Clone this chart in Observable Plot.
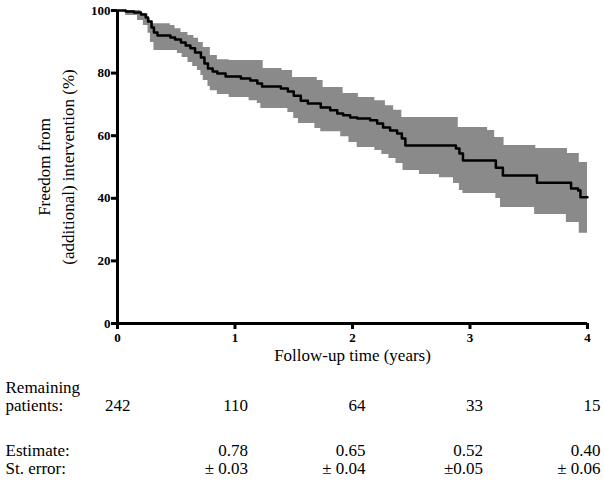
<!DOCTYPE html>
<html><head><meta charset="utf-8">
<script src="https://cdn.jsdelivr.net/npm/d3@7"></script>
<script src="https://cdn.jsdelivr.net/npm/@observablehq/plot@0.6"></script>
<style>body{margin:0;background:#fff;}</style>
</head><body><div id="chart"></div>
<script>
// Kaplan-Meier estimate (years, %)
const lineTime = [0,0.07,0.14,0.20,0.24,0.26,0.29,0.31,0.34,0.45,0.49,0.54,0.58,0.62,0.66,0.71,0.74,0.77,0.81,0.85,0.92,1.05,1.13,1.19,1.23,1.39,1.45,1.50,1.56,1.62,1.73,1.81,1.87,1.92,1.98,2.04,2.15,2.21,2.26,2.32,2.38,2.42,2.45,2.88,2.91,2.94,3.22,3.28,3.57,3.86,3.92,3.94,4.00];
const lineSurv = [100,99.7,99.4,98.7,97.8,96.5,94.6,93.0,92.0,91.4,90.7,89.8,88.8,87.9,86.6,85.0,83.1,81.5,80.5,79.9,78.9,78.3,77.6,76.7,75.7,75.1,74.1,72.8,71.2,70.3,69.0,68.1,67.1,66.5,65.8,65.5,64.9,63.9,62.6,61.7,60.7,59.1,56.9,55.9,54.3,52.1,49.8,47.3,45.0,43.1,42.5,40.3,40.3];
// Confidence band, upper bound
const upperTime = [0,0.20,0.26,0.28,0.45,0.49,0.54,0.60,0.65,0.69,0.73,0.79,0.85,0.95,1.24,1.40,1.49,1.70,1.75,1.92,2.05,2.19,2.28,2.35,2.42,2.90,3.15,3.21,3.29,3.56,3.83,3.93,4.00];
const upperPct  = [100,99.0,97.4,95.8,95.2,94.2,93.0,92.0,91.1,89.8,88.2,85.6,84.3,84.0,81.5,80.8,78.6,77.6,75.4,73.5,72.2,71.2,69.6,68.1,65.8,62.6,61.7,59.4,56.9,55.9,54.3,51.4,51.4];
// Confidence band, lower bound
const lowerTime = [0,0.07,0.17,0.22,0.26,0.28,0.31,0.51,0.55,0.60,0.64,0.68,0.71,0.73,0.77,0.79,0.85,0.95,1.12,1.19,1.22,1.45,1.50,1.54,1.68,1.73,1.90,1.97,2.04,2.19,2.25,2.31,2.37,2.43,2.57,2.74,2.86,2.91,2.94,3.22,3.26,3.55,3.82,3.93,4.00];
const lowerPct  = [100,98.4,96.8,95.2,92.7,89.8,87.2,86.3,85.0,83.4,82.1,80.8,79.2,77.6,75.7,74.4,73.2,72.2,71.2,70.3,68.7,67.4,65.5,63.9,62.3,61.3,59.7,57.8,56.2,55.3,54.0,52.7,51.1,48.9,47.6,46.6,44.7,42.5,41.5,39.9,37.1,34.8,32.3,28.8,28.8];

// Table below the chart
const tableYears = [0,1,2,3,4];
const remaining = ["242","110","64","33","15"];
const estYears = [1,2,3,4];
const estimates = ["0.78","0.65","0.52","0.40"];
const stErrors = ["± 0.03","± 0.04","±0.05","± 0.06"];
const xTicks = [0,1,2,3,4];
const yTicks = [0,20,40,60,80,100];

function stepAt(ts, vs, t) {
  let v = vs[0];
  for (let i = 0; i < ts.length; i++) { if (ts[i] <= t) v = vs[i]; else break; }
  return v;
}
const bandTimes = Array.from(new Set([...upperTime, ...lowerTime])).sort((a, b) => a - b);
const band = bandTimes.map(t => ({t, hi: stepAt(upperTime, upperPct, t), lo: stepAt(lowerTime, lowerPct, t)}));
const line = lineTime.map((t, i) => ({t, s: lineSurv[i]}));

const serif = "'Liberation Serif', 'Times New Roman', serif";
const fs = 17;
const chart = Plot.plot({
  width: 604, height: 489,
  marginLeft: 117, marginRight: 17, marginTop: 10, marginBottom: 166,
  style: {fontFamily: serif, background: "#fff", color: "#000", overflow: "visible"},
  x: {domain: [0, 4]},
  y: {domain: [0, 100]},
  marks: [
    Plot.areaY(band, {x: "t", y1: "lo", y2: "hi", curve: "step-after", fill: "#8a8a8a"}),
    Plot.line(line, {x: "t", y: "s", curve: "step-after", stroke: "#000", strokeWidth: 2.5}),
    Plot.axisY({ticks: yTicks, tickSize: 6, tickPadding: 1, strokeWidth: 3, fontSize: 13, fontWeight: "bold", label: null, tickFormat: d => d}),
    Plot.axisX({ticks: xTicks, tickSize: 6, tickPadding: 3, strokeWidth: 3, fontSize: 13, fontWeight: "bold", label: null, tickFormat: d => d}),
    Plot.ruleX([0], {strokeWidth: 3}),
    Plot.ruleY([0], {strokeWidth: 3}),
    Plot.text(["Freedom from"], {frameAnchor: "left", textAnchor: "middle", rotate: -90, dx: -73, fontSize: fs}),
    Plot.text(["(additional) intervention (%)"], {frameAnchor: "left", textAnchor: "middle", rotate: -90, dx: -49, fontSize: fs}),
    Plot.text(["Follow-up time (years)"], {frameAnchor: "bottom", dy: 37, fontSize: fs}),
    Plot.text(["Remaining"], {frameAnchor: "bottom-left", dx: -112, dy: 69, textAnchor: "start", fontSize: fs}),
    Plot.text(["patients:"], {frameAnchor: "bottom-left", dx: -112, dy: 87, textAnchor: "start", fontSize: fs}),
    Plot.text(["Estimate:"], {frameAnchor: "bottom-left", dx: -112, dy: 132, textAnchor: "start", fontSize: fs}),
    Plot.text(["St. error:"], {frameAnchor: "bottom-left", dx: -112, dy: 150, textAnchor: "start", fontSize: fs}),
    Plot.text(tableYears, {x: d => d, text: (d, i) => remaining[i], frameAnchor: "bottom", dx: 13, dy: 87, textAnchor: "end", fontSize: fs}),
    Plot.text(estYears, {x: d => d, text: (d, i) => estimates[i], frameAnchor: "bottom", dx: 13, dy: 132, textAnchor: "end", fontSize: fs}),
    Plot.text(estYears, {x: d => d, text: (d, i) => stErrors[i], frameAnchor: "bottom", dx: 13, dy: 150, textAnchor: "end", fontSize: fs})
  ]
});
document.getElementById("chart").appendChild(chart);
</script>
</body></html>
